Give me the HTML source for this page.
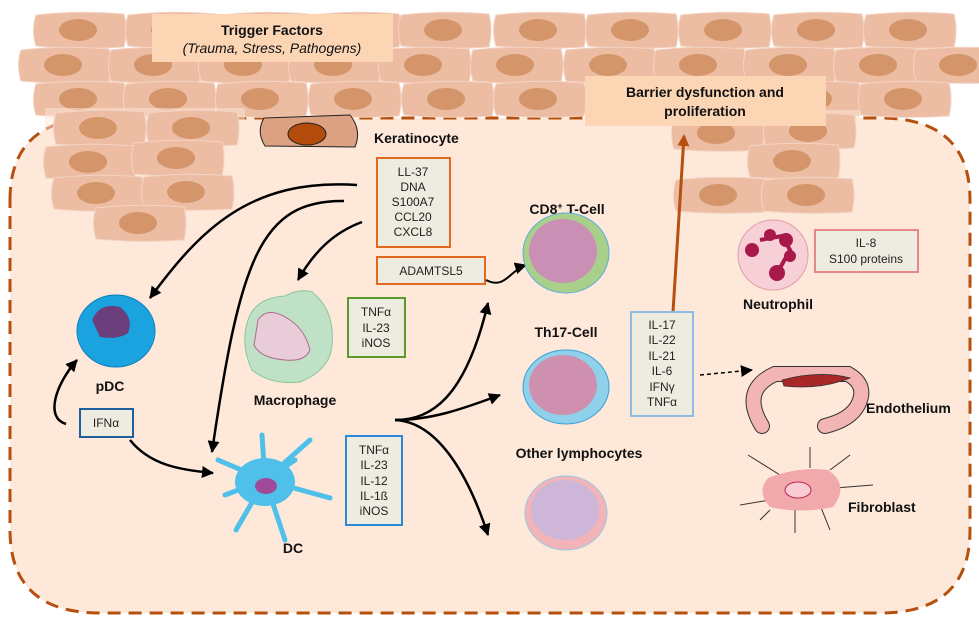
<!DOCTYPE html>
<html><head><meta charset="utf-8"><style>
html,body{margin:0;padding:0;background:#fff}
svg{display:block}
text{font-family:"Liberation Sans",Arial,sans-serif}
.b{font-weight:bold;font-size:14px;fill:#111}
.s{font-size:12px;fill:#222;text-anchor:middle}
</style></head><body>
<svg width="979" height="624" viewBox="0 0 979 624" xmlns="http://www.w3.org/2000/svg">
<defs>
<marker id="ahb" markerWidth="14" markerHeight="14" refX="10" refY="6" orient="auto" markerUnits="userSpaceOnUse"><path d="M0,0 L12,6 L0,12 Z" fill="#b5500f"/></marker>
<marker id="ak" markerWidth="14" markerHeight="14" refX="11" refY="6" orient="auto" markerUnits="userSpaceOnUse"><path d="M0,0 L12,6 L0,12 Z" fill="#000"/></marker>
<g id="cell"><path d="M-44,-15 Q0,-20 44,-16 Q48,0 44,17 Q0,20 -44,16 Q-49,0 -44,-15 Z" fill="#ecbca3" stroke="#f4d3c2" stroke-width="1"/><ellipse cx="-2" cy="0" rx="19" ry="11" fill="#d4956a"/></g>
</defs>
<path d="M10,200 Q10,118 100,118 L880,118 Q970,118 970,200 L970,530 Q970,613 880,613 L100,613 Q10,613 10,530 Z" fill="#fde8d9" stroke="#b5500f" stroke-width="3" stroke-dasharray="13,8"/>
<g>
<use href="#cell" x="80" y="30"/><use href="#cell" x="172" y="30"/><use href="#cell" x="265" y="30"/><use href="#cell" x="355" y="30"/><use href="#cell" x="445" y="30"/><use href="#cell" x="540" y="30"/><use href="#cell" x="632" y="30"/><use href="#cell" x="725" y="30"/><use href="#cell" x="818" y="30"/><use href="#cell" x="910" y="30"/>
<use href="#cell" x="65" y="65"/><use href="#cell" x="155" y="65"/><use href="#cell" x="245" y="65"/><use href="#cell" x="335" y="65"/><use href="#cell" x="425" y="65"/><use href="#cell" x="517" y="65"/><use href="#cell" x="610" y="65"/><use href="#cell" x="700" y="65"/><use href="#cell" x="790" y="65"/><use href="#cell" x="880" y="65"/><use href="#cell" x="960" y="65"/>
<use href="#cell" x="80" y="99"/><use href="#cell" x="170" y="99"/><use href="#cell" x="262" y="99"/><use href="#cell" x="355" y="99"/><use href="#cell" x="448" y="99"/><use href="#cell" x="540" y="99"/><use href="#cell" x="632" y="99"/><use href="#cell" x="725" y="99"/><use href="#cell" x="815" y="99"/><use href="#cell" x="905" y="99"/>
<rect x="45" y="108" width="200" height="135" fill="#fde8d9" opacity="0.5"/>
<use href="#cell" x="100" y="128"/><use href="#cell" x="193" y="128"/><use href="#cell" x="90" y="162"/><use href="#cell" x="178" y="158"/><use href="#cell" x="98" y="193"/><use href="#cell" x="188" y="192"/><use href="#cell" x="140" y="223"/>
<rect x="675" y="110" width="185" height="108" fill="#fde8d9" opacity="0.5"/>
<use href="#cell" x="718" y="133"/><use href="#cell" x="810" y="131"/><use href="#cell" x="794" y="161"/><use href="#cell" x="720" y="195"/><use href="#cell" x="808" y="195"/>
</g>
<rect x="152" y="14" width="241" height="48" fill="#fcd5b5"/>
<text x="272" y="35" class="b" text-anchor="middle" font-size="15">Trigger Factors</text>
<text x="272" y="53" text-anchor="middle" font-size="14" font-style="italic" fill="#111">(Trauma, Stress, Pathogens)</text>
<rect x="585" y="76" width="241" height="50" fill="#fcd5b5"/>
<text x="705" y="97" class="b" text-anchor="middle">Barrier dysfunction and</text>
<text x="705" y="116" class="b" text-anchor="middle">proliferation</text>
<path d="M264,118 L350,115 Q362,130 355,147 L265,146 Q256,132 264,118 Z" fill="#dca180" stroke="#222" stroke-width="1"/>
<ellipse cx="307" cy="134" rx="19" ry="11" fill="#b24b0c" stroke="#222"/>
<text x="374" y="143" class="b">Keratinocyte</text>
<rect x="377" y="158" width="73" height="89" fill="#eeebe0" stroke="#e06a1e" stroke-width="2"/>
<text class="s" x="413" y="176">LL-37</text><text class="s" x="413" y="191">DNA</text><text class="s" x="413" y="206">S100A7</text><text class="s" x="413" y="221">CCL20</text><text class="s" x="413" y="236">CXCL8</text>
<rect x="377" y="257" width="108" height="27" fill="#eeebe0" stroke="#e06a1e" stroke-width="2"/>
<text class="s" x="431" y="275">ADAMTSL5</text>
<g fill="none" stroke="#000" stroke-width="2.5">
<path d="M357,185 C250,178 200,230 150,298" marker-end="url(#ak)"/>
<path d="M344,201 C260,200 240,260 212,452" marker-end="url(#ak)"/>
<path d="M362,222 C335,232 315,250 298,280" marker-end="url(#ak)"/>
<path d="M486,280 C505,290 510,270 526,265" marker-end="url(#ak)" stroke-width="2"/>
<path d="M66,424 C45,418 55,385 77,360" marker-end="url(#ak)"/>
<path d="M130,440 C150,465 180,470 213,473" marker-end="url(#ak)"/>
<path d="M395,420 C430,420 465,400 488,303" marker-end="url(#ak)"/>
<path d="M395,420 C430,420 460,410 500,395" marker-end="url(#ak)"/>
<path d="M395,420 C440,422 470,480 488,535" marker-end="url(#ak)"/>
<path d="M700,375 L752,370" stroke-width="1.5" stroke-dasharray="4,3" marker-end="url(#ak)"/>
</g>
<path d="M673,312 L684,136" stroke="#b5500f" stroke-width="3" fill="none" marker-end="url(#ahb)"/>
<ellipse cx="116" cy="331" rx="39" ry="36" fill="#1aa3df" stroke="#0d7fb8"/>
<path d="M92,320 Q100,302 120,307 Q134,318 128,333 Q118,340 100,337 Z" fill="#6a3f7c"/>
<text x="110" y="391" class="b" text-anchor="middle">pDC</text>
<rect x="80" y="409" width="53" height="28" fill="#eeebe0" stroke="#1f5f9e" stroke-width="2"/>
<text class="s" x="106" y="427">IFNα</text>
<path d="M248,320 Q255,298 285,296 Q300,288 312,292 Q335,310 332,345 Q330,370 300,382 Q270,385 252,370 Q240,345 248,320 Z" fill="#bfe2c6" stroke="#8ac59a"/>
<path d="M258,320 Q268,305 290,320 Q305,330 310,350 Q305,362 285,360 Q260,358 254,345 Z" fill="#e8cdd9" stroke="#b06a90"/>
<text x="295" y="405" class="b" text-anchor="middle">Macrophage</text>
<rect x="348" y="298" width="57" height="59" fill="#eeebe0" stroke="#5a9a2a" stroke-width="2"/>
<text class="s" x="376" y="316">TNFα</text><text class="s" x="376" y="332">IL-23</text><text class="s" x="376" y="347">iNOS</text>
<g stroke="#4fc0ea" stroke-width="5" stroke-linecap="round" fill="none">
<path d="M265,480 L218,460"/><path d="M265,480 L262,435"/><path d="M265,480 L310,440"/><path d="M265,480 L330,498"/><path d="M265,480 L236,530"/><path d="M265,480 L285,540"/><path d="M265,480 L225,495"/><path d="M265,480 L295,460"/>
</g>
<ellipse cx="265" cy="482" rx="30" ry="24" fill="#4fc0ea"/>
<ellipse cx="266" cy="486" rx="11" ry="8" fill="#a04a9a"/>
<text x="293" y="553" class="b" text-anchor="middle">DC</text>
<rect x="346" y="436" width="56" height="89" fill="#eeebe0" stroke="#2a8ad8" stroke-width="2"/>
<text class="s" x="374" y="454">TNFα</text><text class="s" x="374" y="469">IL-23</text><text class="s" x="374" y="485">IL-12</text><text class="s" x="374" y="500">IL-1ß</text><text class="s" x="374" y="515">iNOS</text>
<text x="567" y="214" class="b" text-anchor="middle">CD8<tspan font-size="9" dy="-5">+</tspan><tspan dy="5"> T-Cell</tspan></text>
<ellipse cx="566" cy="253" rx="43" ry="40" fill="#a8d08a" stroke="#5aaee0"/>
<ellipse cx="563" cy="251" rx="34" ry="32" fill="#c98fb4"/>
<text x="566" y="337" class="b" text-anchor="middle">Th17-Cell</text>
<ellipse cx="566" cy="387" rx="43" ry="37" fill="#8fd0ea" stroke="#3aa0d8"/>
<ellipse cx="563" cy="385" rx="34" ry="30" fill="#cf90b0"/>
<text x="579" y="458" class="b" text-anchor="middle">Other lymphocytes</text>
<ellipse cx="566" cy="513" rx="41" ry="37" fill="#f2b4b8" stroke="#9ac8e0"/>
<ellipse cx="565" cy="510" rx="34" ry="30" fill="#cdb6d8"/>
<rect x="631" y="312" width="62" height="104" fill="#eeebe0" stroke="#8cbde8" stroke-width="2"/>
<text class="s" x="662" y="329">IL-17</text><text class="s" x="662" y="344">IL-22</text><text class="s" x="662" y="360">IL-21</text><text class="s" x="662" y="375">IL-6</text><text class="s" x="662" y="391">IFNγ</text><text class="s" x="662" y="406">TNFα</text>
<circle cx="773" cy="255" r="35" fill="#f6d0d6" stroke="#e0a0aa"/>
<g fill="#a8184a"><circle cx="752" cy="250" r="7"/><circle cx="770" cy="235" r="6"/><circle cx="786" cy="240" r="7"/><circle cx="790" cy="256" r="6"/><circle cx="777" cy="273" r="8"/><path d="M760,240 L782,236 L790,250 L780,268" stroke="#a8184a" stroke-width="4" fill="none"/></g>
<text x="778" y="309" class="b" text-anchor="middle">Neutrophil</text>
<rect x="815" y="230" width="103" height="42" fill="#eeebe0" stroke="#e8868a" stroke-width="2"/>
<text class="s" x="866" y="247">IL-8</text><text class="s" x="866" y="263">S100 proteins</text>
<path d="M762,426 Q740,390 775,374 L848,374 Q868,385 858,405 Q850,420 825,426" fill="none" stroke="#333" stroke-width="16" stroke-linecap="round"/>
<path d="M762,426 Q740,390 775,374 L848,374 Q868,385 858,405 Q850,420 825,426" fill="none" stroke="#f2b4b4" stroke-width="14" stroke-linecap="round"/>
<path d="M782,380 Q820,370 850,378 Q820,390 784,386 Z" fill="#a82828" stroke="#333" stroke-width="0.8"/>
<text x="866" y="413" class="b">Endothelium</text>
<g stroke="#333" stroke-width="1" fill="none"><path d="M780,475 L748,455"/><path d="M810,468 L810,447"/><path d="M830,470 L850,455"/><path d="M835,488 L873,485"/><path d="M820,505 L830,530"/><path d="M795,505 L795,533"/><path d="M770,500 L740,505"/><path d="M770,510 L760,520"/></g>
<path d="M768,478 Q800,466 828,470 Q850,485 833,507 Q800,514 770,507 Q756,492 768,478 Z" fill="#f2a9ac"/>
<ellipse cx="798" cy="490" rx="13" ry="8" fill="#f8ccd2" stroke="#c02050"/>
<text x="848" y="512" class="b">Fibroblast</text>
</svg>
</body></html>
